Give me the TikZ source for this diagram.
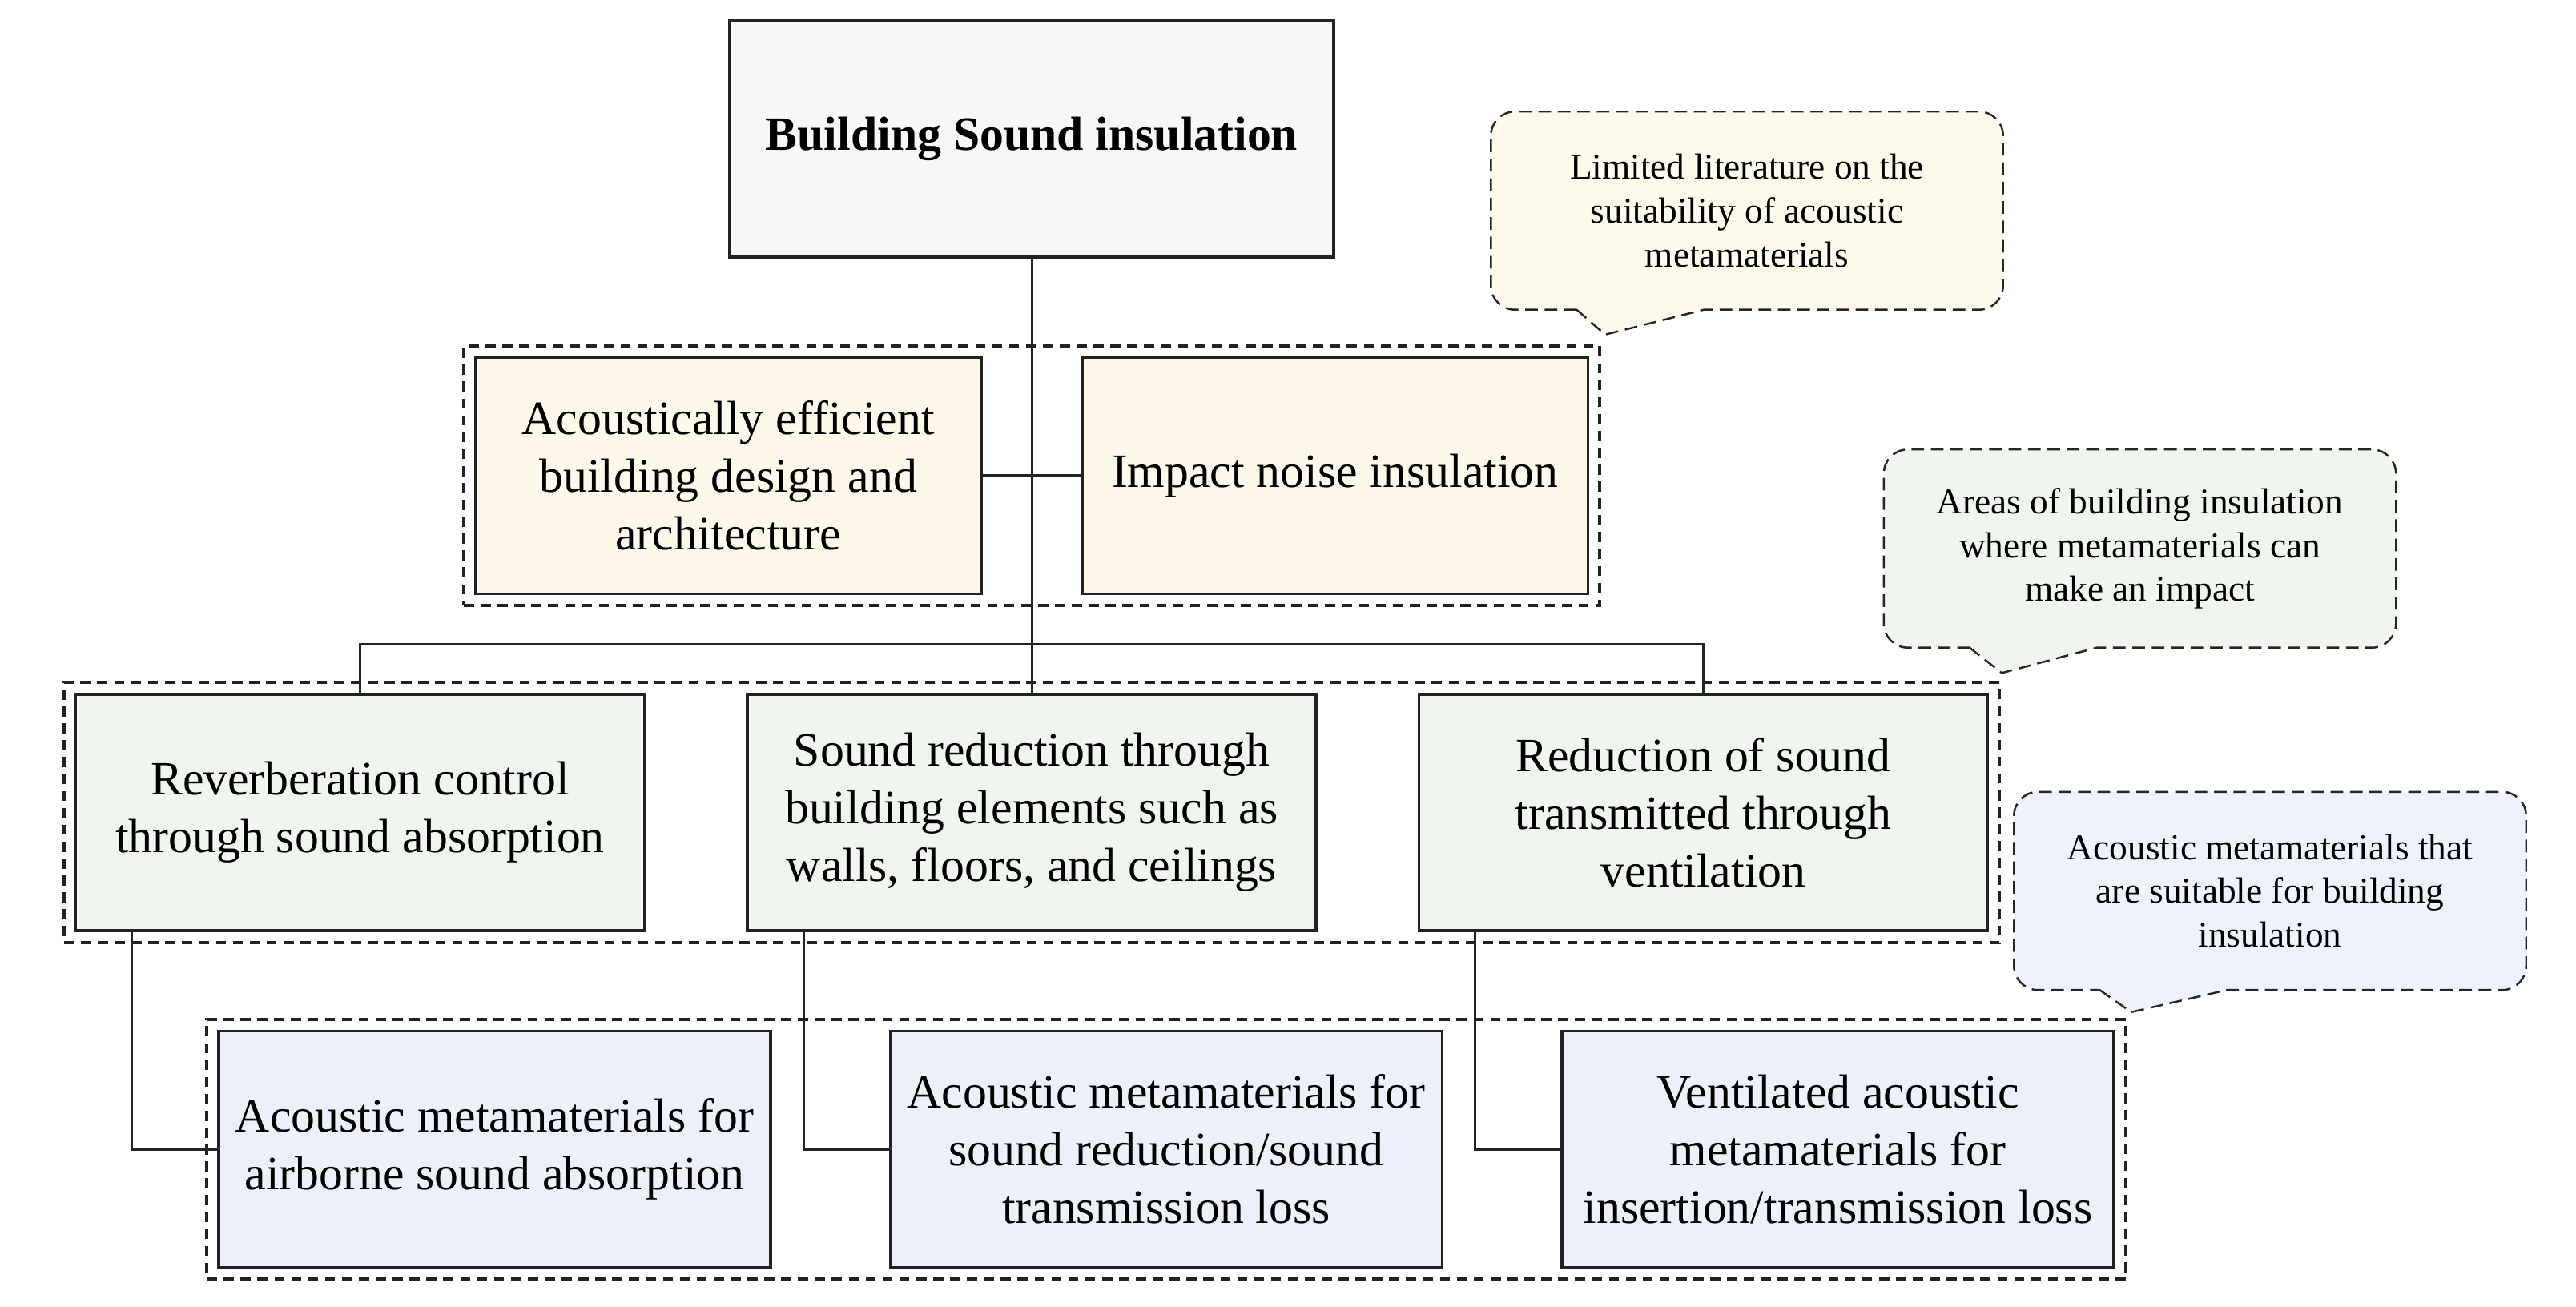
\documentclass[tikz,border=0pt]{standalone}
\usepackage{fontspec}
\setmainfont{Liberation Serif}
\usepackage{tikz}
\usetikzlibrary{positioning,calc,fit,backgrounds}
\definecolor{topfill}{HTML}{F7F7F8}
\definecolor{archfill}{HTML}{FDF8E9}
\definecolor{areafill}{HTML}{F0F5EE}
\definecolor{metafill}{HTML}{ECF0F8}
\definecolor{noteyellow}{HTML}{FEF9EB}
\definecolor{notegreen}{HTML}{F0F5EE}
\definecolor{noteblue}{HTML}{EEF3FB}
\definecolor{framegray}{HTML}{222222}
\tikzset{
  basebox/.style={draw=framegray,line width=1pt,align=center,minimum height=2.95cm,inner sep=0pt,
    font=\fontsize{17}{20.5}\selectfont},
  titlebox/.style={basebox,fill=topfill,minimum width=7.54cm,font=\fontsize{17}{20.5}\selectfont\bfseries},
  archbox/.style={basebox,fill=archfill,minimum width=6.31cm},
  areabox/.style={basebox,fill=areafill,minimum width=7.10cm},
  metabox/.style={basebox,fill=metafill,minimum width=6.89cm},
  groupframe/.style={draw=framegray,line width=1.1pt,dash pattern=on 3.6pt off 2.4pt,inner sep=0.13cm},
  notetext/.style={minimum width=6.38cm,minimum height=2.46cm,align=center,font=\fontsize{12.9}{15.6}\selectfont},
  noteframe/.style={draw=black!85,line width=0.7pt,dash pattern=on 4.5pt off 2.4pt},
  link/.style={draw=framegray,line width=0.85pt}
}
\begin{document}
\begin{tikzpicture}[node distance=1.22cm and 1.25cm]
  \useasboundingbox (0,0) rectangle (32.16,16.32);
  % tree of boxes
  \node[titlebox] (top) at (12.88,14.585) {Building Sound insulation};
  \node[archbox,below=of top.south west] (arch) {Acoustically efficient\\building design and\\architecture};
  \node[archbox,below=of top.south east] (impact) {Impact noise insulation};
  \coordinate (archmid) at ($(arch.south)!0.5!(impact.south)$);
  \node[areabox,below=of archmid] (elem) {Sound reduction through\\building elements such as\\walls, floors, and ceilings};
  \node[areabox,left=of elem] (reverb) {Reverberation control\\through sound absorption};
  \node[areabox,right=of elem] (vent) {Reduction of sound\\transmitted through\\ventilation};
  \node[metabox,below=of reverb,xshift=1.68cm] (absorb) {Acoustic metamaterials for\\airborne sound absorption};
  \node[metabox,below=of elem,xshift=1.68cm] (trans) {Acoustic metamaterials for\\sound reduction/sound\\transmission loss};
  \node[metabox,below=of vent,xshift=1.68cm] (insert) {Ventilated acoustic\\metamaterials for\\insertion/transmission loss};
  % dashed groups
  \node[groupframe,fit=(arch)(impact)] (grp1) {};
  \node[groupframe,fit=(reverb)(vent)] (grp2) {};
  \node[groupframe,fit=(absorb)(insert)] (grp3) {};
  % connectors
  \coordinate (bar) at ($(archmid)!0.5!(elem.north)$);
  \draw[link] (top.south) -- (elem.north);
  \draw[link] (arch.east) -- (impact.west);
  \draw[link] (reverb.north) |- (bar) -| (vent.north);
  \draw[link] ([xshift=0.72cm]reverb.south west) |- (absorb.west);
  \draw[link] ([xshift=0.72cm]elem.south west) |- (trans.west);
  \draw[link] ([xshift=0.72cm]vent.south west) |- (insert.west);
  % callouts
  \node[notetext] (note1) at (21.81,13.69) {Limited literature on the\\suitability of acoustic\\metamaterials};
  \node[notetext] (note2) at (26.715,9.47) {Areas of building insulation\\where metamaterials can\\make an impact};
  \node[notetext] (note3) at (28.34,5.195) {Acoustic metamaterials that\\are suitable for building\\insulation};
  \coordinate (tip1) at ($(grp1.north east)+(0.05,0.12)$);
  \coordinate (tip2) at ($(grp2.north east)+(0.01,0.10)$);
  \coordinate (tip3) at ($(grp3.north east)+(0.05,0.07)$);
  \begin{scope}[on background layer]
    \draw[noteframe,fill=noteyellow] ([xshift=1.07cm]note1.south west) -- (tip1) -- ([xshift=2.66cm]note1.south west)
      -- ([xshift=-0.3cm]note1.south east) arc[start angle=-90,end angle=0,radius=0.3cm]
      -- ([yshift=-0.3cm]note1.north east) arc[start angle=0,end angle=90,radius=0.3cm]
      -- ([xshift=0.3cm]note1.north west) arc[start angle=90,end angle=180,radius=0.3cm]
      -- ([yshift=0.3cm]note1.south west) arc[start angle=180,end angle=270,radius=0.3cm] -- cycle;
    \draw[noteframe,fill=notegreen] ([xshift=1.07cm]note2.south west) -- (tip2) -- ([xshift=2.66cm]note2.south west)
      -- ([xshift=-0.3cm]note2.south east) arc[start angle=-90,end angle=0,radius=0.3cm]
      -- ([yshift=-0.3cm]note2.north east) arc[start angle=0,end angle=90,radius=0.3cm]
      -- ([xshift=0.3cm]note2.north west) arc[start angle=90,end angle=180,radius=0.3cm]
      -- ([yshift=0.3cm]note2.south west) arc[start angle=180,end angle=270,radius=0.3cm] -- cycle;
    \draw[noteframe,fill=noteblue] ([xshift=1.07cm]note3.south west) -- (tip3) -- ([xshift=2.66cm]note3.south west)
      -- ([xshift=-0.3cm]note3.south east) arc[start angle=-90,end angle=0,radius=0.3cm]
      -- ([yshift=-0.3cm]note3.north east) arc[start angle=0,end angle=90,radius=0.3cm]
      -- ([xshift=0.3cm]note3.north west) arc[start angle=90,end angle=180,radius=0.3cm]
      -- ([yshift=0.3cm]note3.south west) arc[start angle=180,end angle=270,radius=0.3cm] -- cycle;
  \end{scope}
\end{tikzpicture}
\end{document}
